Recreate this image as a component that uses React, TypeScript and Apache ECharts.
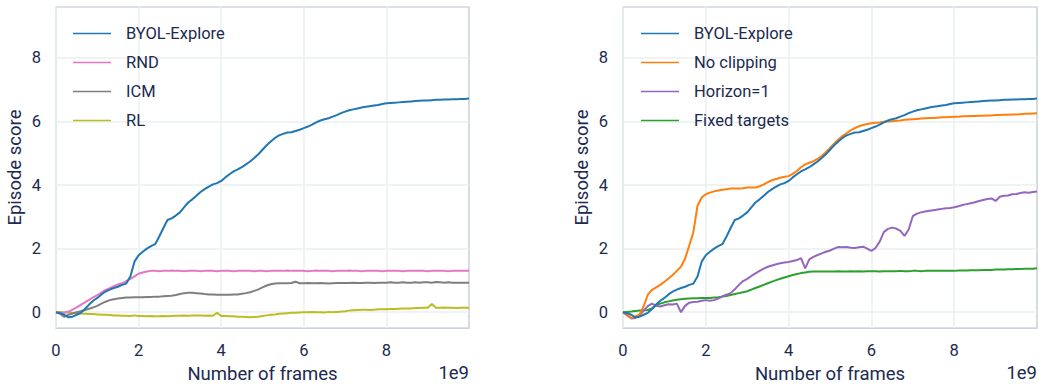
import React, { useEffect, useRef } from "react";
import * as echarts from "echarts";

// Frames in units of 1e9
const frames = [
  0.0, 0.1, 0.2, 0.3, 0.4, 0.5, 0.6, 0.7, 0.8, 0.9,
  1.0, 1.1, 1.2, 1.3, 1.4, 1.5, 1.6, 1.7, 1.8, 1.9,
  2.0, 2.1, 2.2, 2.3, 2.4, 2.5, 2.6, 2.7, 2.8, 2.9,
  3.0, 3.1, 3.2, 3.3, 3.4, 3.5, 3.6, 3.7, 3.8, 3.9,
  4.0, 4.1, 4.2, 4.3, 4.4, 4.5, 4.6, 4.7, 4.8, 4.9,
  5.0, 5.1, 5.2, 5.3, 5.4, 5.5, 5.6, 5.7, 5.8, 5.9,
  6.0, 6.1, 6.2, 6.3, 6.4, 6.5, 6.6, 6.7, 6.8, 6.9,
  7.0, 7.1, 7.2, 7.3, 7.4, 7.5, 7.6, 7.7, 7.8, 7.9,
  8.0, 8.1, 8.2, 8.3, 8.4, 8.5, 8.6, 8.7, 8.8, 8.9,
  9.0, 9.1, 9.2, 9.3, 9.4, 9.5, 9.6, 9.7, 9.8, 9.9,
  10.0,
];

const byolExplore = [
  0.00, -0.03, -0.08, -0.16, -0.14, -0.08, -0.02, 0.10, 0.24, 0.36,
  0.45, 0.56, 0.65, 0.71, 0.76, 0.80, 0.86, 0.90, 1.12, 1.59,
  1.79, 1.90, 2.00, 2.08, 2.14, 2.38, 2.65, 2.90, 2.95, 3.04,
  3.14, 3.30, 3.45, 3.55, 3.66, 3.78, 3.87, 3.95, 4.02, 4.06,
  4.13, 4.24, 4.34, 4.43, 4.49, 4.56, 4.65, 4.74, 4.85, 4.97,
  5.11, 5.25, 5.37, 5.48, 5.56, 5.61, 5.65, 5.66, 5.70, 5.74,
  5.79, 5.84, 5.90, 5.97, 6.03, 6.07, 6.10, 6.15, 6.20, 6.26,
  6.31, 6.35, 6.38, 6.41, 6.44, 6.46, 6.48, 6.50, 6.52, 6.55,
  6.57, 6.58, 6.59, 6.60, 6.61, 6.62, 6.63, 6.64, 6.65, 6.66,
  6.66, 6.67, 6.68, 6.68, 6.69, 6.69, 6.70, 6.70, 6.71, 6.71,
  6.72,
];

const rnd = [
  0.00, -0.02, -0.01, 0.02, 0.08, 0.15, 0.23, 0.31, 0.39, 0.47,
  0.54, 0.62, 0.70, 0.76, 0.82, 0.87, 0.91, 0.98, 1.05, 1.13,
  1.21, 1.25, 1.28, 1.30, 1.30, 1.29, 1.30, 1.30, 1.31, 1.30,
  1.30, 1.29, 1.30, 1.30, 1.30, 1.29, 1.30, 1.30, 1.30, 1.29,
  1.30, 1.30, 1.30, 1.29, 1.30, 1.30, 1.30, 1.30, 1.29, 1.30,
  1.30, 1.29, 1.30, 1.30, 1.30, 1.30, 1.31, 1.30, 1.30, 1.30,
  1.30, 1.29, 1.30, 1.31, 1.30, 1.30, 1.30, 1.29, 1.30, 1.30,
  1.30, 1.31, 1.30, 1.30, 1.29, 1.30, 1.30, 1.30, 1.30, 1.29,
  1.30, 1.30, 1.30, 1.30, 1.29, 1.30, 1.30, 1.30, 1.30, 1.30,
  1.29, 1.30, 1.30, 1.30, 1.30, 1.29, 1.30, 1.30, 1.30, 1.30,
  1.30,
];

const icm = [
  0.00, -0.05, -0.15, -0.08, -0.04, 0.00, 0.03, 0.07, 0.11, 0.15,
  0.20, 0.27, 0.33, 0.38, 0.41, 0.43, 0.45, 0.46, 0.46, 0.47,
  0.47, 0.47, 0.48, 0.48, 0.49, 0.49, 0.50, 0.51, 0.52, 0.54,
  0.57, 0.60, 0.61, 0.61, 0.60, 0.59, 0.57, 0.56, 0.56, 0.55,
  0.55, 0.55, 0.55, 0.56, 0.56, 0.58, 0.60, 0.63, 0.67, 0.72,
  0.78, 0.84, 0.88, 0.90, 0.91, 0.91, 0.91, 0.92, 0.96, 0.91,
  0.91, 0.92, 0.91, 0.91, 0.92, 0.91, 0.90, 0.91, 0.92, 0.92,
  0.92, 0.92, 0.93, 0.92, 0.92, 0.93, 0.93, 0.92, 0.93, 0.93,
  0.93, 0.94, 0.93, 0.93, 0.94, 0.93, 0.93, 0.94, 0.93, 0.94,
  0.94, 0.93, 0.95, 0.94, 0.93, 0.94, 0.93, 0.93, 0.93, 0.93,
  0.93,
];

const rl = [
  0.00, 0.01, -0.01, 0.00, -0.02, -0.03, -0.04, -0.05, -0.06, -0.06,
  -0.07, -0.08, -0.08, -0.09, -0.10, -0.10, -0.11, -0.11, -0.12, -0.10,
  -0.12, -0.12, -0.13, -0.12, -0.13, -0.13, -0.12, -0.13, -0.12, -0.11,
  -0.11, -0.10, -0.11, -0.10, -0.10, -0.10, -0.11, -0.10, -0.11, -0.02,
  -0.12, -0.12, -0.13, -0.13, -0.14, -0.14, -0.15, -0.16, -0.15, -0.14,
  -0.12, -0.10, -0.08, -0.07, -0.05, -0.04, -0.03, -0.02, -0.02, -0.01,
  0.00, 0.00, 0.01, 0.00, 0.00, -0.01, 0.01, 0.00, 0.01, 0.02,
  0.03, 0.05, 0.06, 0.07, 0.08, 0.08, 0.07, 0.08, 0.09, 0.09,
  0.09, 0.10, 0.10, 0.11, 0.12, 0.12, 0.12, 0.13, 0.13, 0.14,
  0.14, 0.26, 0.14, 0.14, 0.15, 0.14, 0.14, 0.13, 0.14, 0.14,
  0.14,
];

const noClipping = [
  0.00, -0.08, -0.18, -0.14, -0.07, 0.19, 0.55, 0.70, 0.78, 0.86,
  0.96, 1.06, 1.17, 1.30, 1.43, 1.69, 2.10, 2.52, 3.35, 3.61,
  3.71, 3.76, 3.80, 3.83, 3.85, 3.87, 3.89, 3.89, 3.89, 3.90,
  3.92, 3.92, 3.92, 3.96, 4.02, 4.09, 4.15, 4.19, 4.23, 4.26,
  4.28, 4.35, 4.44, 4.56, 4.65, 4.70, 4.75, 4.82, 4.91, 5.03,
  5.17, 5.30, 5.43, 5.54, 5.63, 5.72, 5.79, 5.85, 5.89, 5.92,
  5.94, 5.96, 5.97, 5.99, 6.00, 6.01, 6.02, 6.03, 6.05, 6.06,
  6.07, 6.08, 6.09, 6.10, 6.11, 6.11, 6.12, 6.13, 6.13, 6.14,
  6.15, 6.15, 6.16, 6.16, 6.17, 6.17, 6.18, 6.18, 6.19, 6.19,
  6.20, 6.20, 6.21, 6.21, 6.22, 6.22, 6.23, 6.24, 6.24, 6.25,
  6.26,
];

const horizon1 = [
  0.00, -0.10, -0.20, -0.18, -0.10, 0.05, 0.19, 0.27, 0.20, 0.18,
  0.22, 0.25, 0.24, 0.27, 0.00, 0.20, 0.30, 0.32, 0.33, 0.36,
  0.38, 0.36, 0.38, 0.43, 0.50, 0.55, 0.60, 0.72, 0.86, 0.98,
  1.05, 1.14, 1.22, 1.30, 1.37, 1.43, 1.47, 1.51, 1.54, 1.56,
  1.58, 1.61, 1.64, 1.70, 1.38, 1.66, 1.74, 1.80, 1.85, 1.90,
  1.94, 2.00, 2.05, 2.04, 2.05, 2.03, 2.02, 2.04, 2.06, 2.00,
  1.93, 2.02, 2.22, 2.52, 2.62, 2.66, 2.63, 2.56, 2.40, 2.60,
  3.02, 3.10, 3.14, 3.17, 3.19, 3.21, 3.23, 3.25, 3.27, 3.28,
  3.30, 3.33, 3.37, 3.40, 3.43, 3.46, 3.50, 3.53, 3.56, 3.58,
  3.50, 3.63, 3.66, 3.67, 3.71, 3.72, 3.75, 3.77, 3.76, 3.78,
  3.80,
];

const fixedTargets = [
  0.00, 0.01, 0.02, 0.04, 0.05, 0.06, 0.07, 0.12, 0.22, 0.27,
  0.31, 0.34, 0.37, 0.39, 0.41, 0.42, 0.43, 0.44, 0.44, 0.45,
  0.45, 0.45, 0.46, 0.47, 0.49, 0.51, 0.54, 0.57, 0.60, 0.63,
  0.66, 0.71, 0.76, 0.81, 0.86, 0.91, 0.96, 1.01, 1.05, 1.09,
  1.13, 1.17, 1.20, 1.23, 1.25, 1.27, 1.28, 1.28, 1.28, 1.28,
  1.28, 1.28, 1.29, 1.28, 1.28, 1.29, 1.28, 1.29, 1.28, 1.29,
  1.29, 1.29, 1.28, 1.29, 1.29, 1.29, 1.29, 1.30, 1.29, 1.29,
  1.30, 1.30, 1.29, 1.30, 1.30, 1.30, 1.30, 1.30, 1.30, 1.30,
  1.30, 1.31, 1.31, 1.31, 1.32, 1.32, 1.32, 1.33, 1.33, 1.33,
  1.34, 1.34, 1.34, 1.35, 1.35, 1.36, 1.36, 1.37, 1.37, 1.37,
  1.38,
];

const yTicks = [0, 2, 4, 6, 8];
const xTicks = [0, 2, 4, 6, 8];

const leftSeries = [
  { name: "BYOL-Explore", values: byolExplore, color: "#1f77b4" },
  { name: "RND", values: rnd, color: "#e377c2" },
  { name: "ICM", values: icm, color: "#7f7f7f" },
  { name: "RL", values: rl, color: "#bcbd22" },
];
const rightSeries = [
  { name: "BYOL-Explore", values: byolExplore, color: "#1f77b4" },
  { name: "No clipping", values: noClipping, color: "#ff7f0e" },
  { name: "Horizon=1", values: horizon1, color: "#9467bd" },
  { name: "Fixed targets", values: fixedTargets, color: "#2ca02c" },
];

const TEXT = "#1c2a50";
const FONT = "Roboto";

export default function App() {
  const ref = useRef<HTMLDivElement>(null);
  useEffect(() => {
    const chart = echarts.init(ref.current!, null, { renderer: "svg" });
    const grids = [
      { left: 56, top: 7, width: 413, height: 323 },
      { left: 623, top: 7, width: 414, height: 323 },
    ];
    const mkX = (gi: number) => ({
      type: "value",
      gridIndex: gi,
      min: 0,
      max: 10,
      interval: 2,
      name: "Number of frames",
      nameLocation: "middle",
      nameGap: 33,
      nameTextStyle: { color: TEXT, fontSize: 18.5, fontFamily: FONT },
      axisLine: { show: false },
      axisTick: { show: false, customValues: xTicks },
      axisLabel: {
        customValues: xTicks,
        color: TEXT,
        fontSize: 16.5,
        fontFamily: FONT,
        margin: 14,
      },
      splitLine: { show: true, lineStyle: { color: "#e9f0f1", width: 1.5 } },
    });
    const mkY = (gi: number) => ({
      type: "value",
      gridIndex: gi,
      min: -0.5,
      max: 9.6,
      name: "Episode score",
      nameLocation: "middle",
      nameGap: 32,
      nameTextStyle: { color: TEXT, fontSize: 18.5, fontFamily: FONT },
      axisLine: { show: false },
      axisTick: { show: false, customValues: yTicks },
      axisLabel: {
        customValues: yTicks,
        color: TEXT,
        fontSize: 16.5,
        fontFamily: FONT,
        margin: 15,
      },
      splitLine: { show: true, lineStyle: { color: "#e9f0f1", width: 1.5 } },
    });
    const series: any[] = [];
    [leftSeries, rightSeries].forEach((group, gi) => {
      group.forEach((s, si) => {
        series.push({
          type: "line",
          name: s.name,
          xAxisIndex: gi,
          yAxisIndex: gi,
          data: frames.map((f, i) => [f, s.values[i]]),
          showSymbol: false,
          symbol: "none",
          lineStyle: { color: s.color, width: 2 },
          itemStyle: { color: s.color },
          z: 10 - si,
        });
      });
    });
    const mkLegend = (gi: number, group: typeof leftSeries) => ({
      orient: "vertical",
      left: gi === 0 ? 68 : 636,
      top: 20,
      itemWidth: 38,
      itemHeight: 14,
      itemGap: 12,
      icon: "path://M0,7 L38,7 L38,8.6 L0,8.6 Z",
      data: group.map((s) => ({ name: s.name, itemStyle: { color: s.color } })),
      textStyle: {
        color: TEXT,
        fontSize: 16.5,
        fontFamily: FONT,
        padding: [0, 0, 0, 10],
      },
      selectedMode: false,
    });
    chart.setOption({
      animation: false,
      backgroundColor: "#ffffff",
      grid: grids.map((g) => ({
        ...g,
        show: true,
        borderColor: "#bcc3d0",
        borderWidth: 1.2,
        backgroundColor: "transparent",
        containLabel: false,
      })),
      xAxis: [mkX(0), mkX(1)],
      yAxis: [mkY(0), mkY(1)],
      legend: [mkLegend(0, leftSeries), mkLegend(1, rightSeries)],
      graphic: [
        {
          type: "text",
          right: 1039 - 469,
          top: 363,
          style: { text: "1e9", fill: TEXT, fontSize: 18.5, fontFamily: FONT },
        },
        {
          type: "text",
          right: 2,
          top: 363,
          style: { text: "1e9", fill: TEXT, fontSize: 18.5, fontFamily: FONT },
        },
      ],
      series,
    });
    return () => chart.dispose();
  }, []);
  return (
    <div
      ref={ref}
      style={{ position: "absolute", left: 0, top: 0, width: 1039, height: 388 }}
    />
  );
}
